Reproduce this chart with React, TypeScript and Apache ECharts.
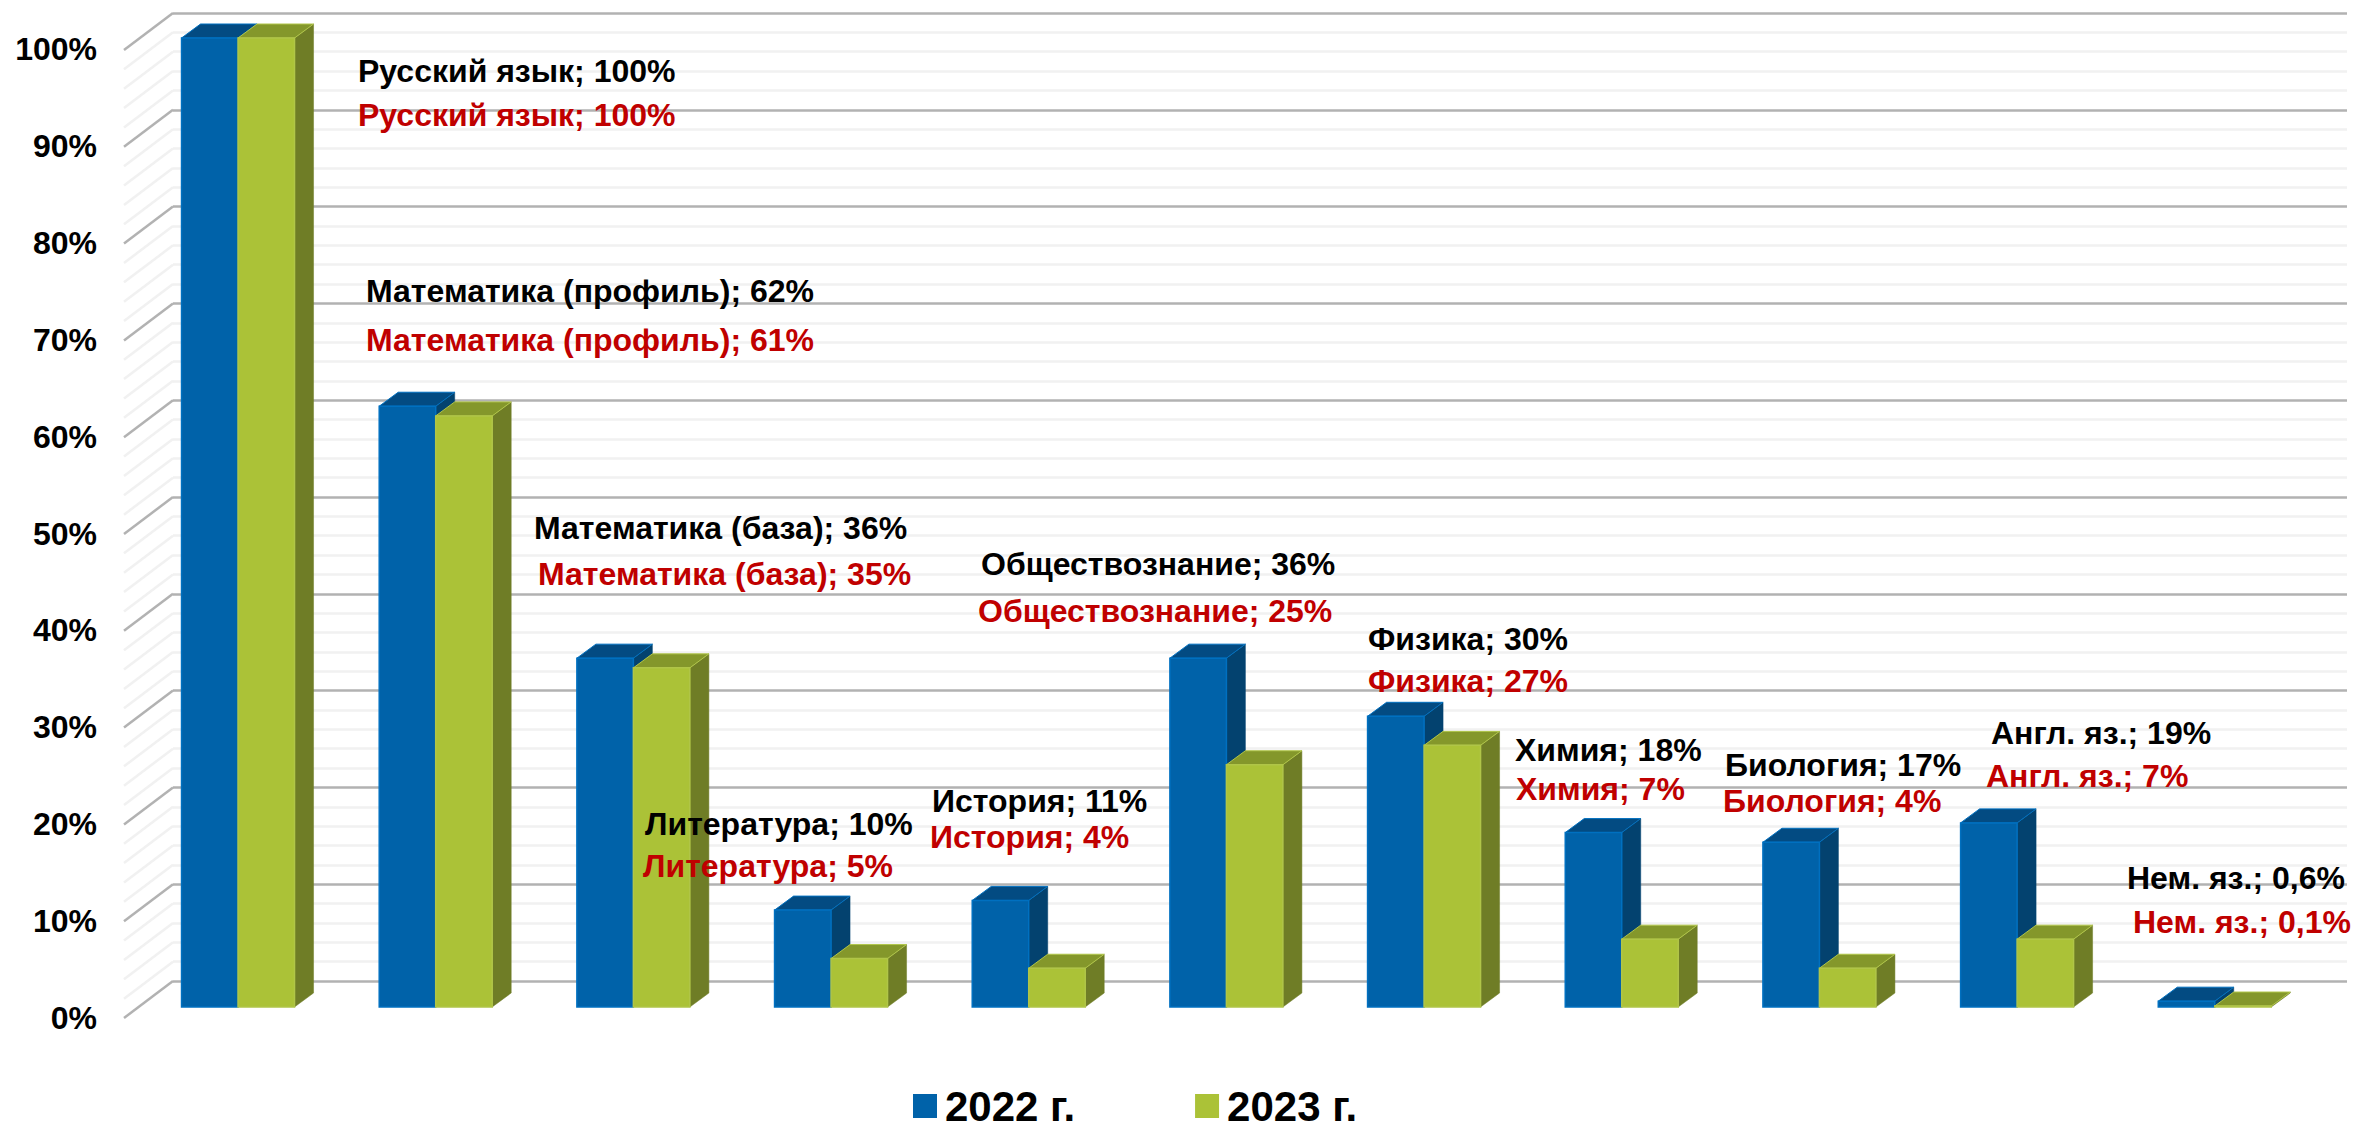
import React, { useEffect, useRef } from "react";
import * as echarts from "echarts";

const categories = ["Русский язык", "Математика (профиль)", "Математика (база)", "Литература", "История", "Обществознание", "Физика", "Химия", "Биология", "Англ. яз.", "Нем. яз."];
const values2022 = [100, 62, 36, 10, 11, 36, 30, 18, 17, 19, 0.6];
const values2023 = [100, 61, 35, 5, 4, 25, 27, 7, 4, 7, 0.1];
const wallTicks = [0, 2, 4, 6, 8, 10, 12, 14, 16, 18, 20, 22, 24, 26, 28, 30, 32, 34, 36, 38, 40, 42, 44, 46, 48, 50, 52, 54, 56, 58, 60, 62, 64, 66, 68, 70, 72, 74, 76, 78, 80, 82, 84, 86, 88, 90, 92, 94, 96, 98, 100];
const seriesNames = ["2022 г.", "2023 г."];

// Layout only: left edge and vertical centre of each data label, in pixels.
const labelAnchors2022 = [[358, 71], [366, 291], [534, 528], [645, 824], [932, 801], [981, 564], [1368, 639], [1515, 750], [1725, 765], [1991, 733], [2127, 878]];
const labelAnchors2023 = [[358, 115], [366, 340], [538, 574], [643, 866], [930, 837], [978, 611], [1368, 681], [1516, 789], [1723, 801], [1986, 776], [2133, 922]];

const FONT = '"Liberation Sans", Arial, sans-serif';
const BAR_W = 56.5;
const DEPTH_X = 19;
const DEPTH_Y = 14;
const SLANT_X = 49;
const SLANT_Y = 37;

const palette2022 = { front: "#0062A9", top: "#034B82", side: "#03426F", stroke: "#0070C0" };
const palette2023 = { front: "#ABC237", top: "#84972B", side: "#6F7D26", stroke: "#B0C548" };

document.documentElement.style.margin = "0";
document.body.style.margin = "0";

function barRenderer(side: number, colors: typeof palette2022, anchors: number[][], values: number[], textColor: string) {
  return (params: any, api: any) => {
    const i = params.dataIndex;
    const base = api.coord([api.value(0), 0]);
    const head = api.coord([api.value(0), api.value(1)]);
    const x0 = side < 0 ? base[0] - BAR_W : base[0];
    const x1 = x0 + BAR_W;
    const y0 = base[1];
    const y1 = head[1];
    const shape = { stroke: colors.stroke, lineWidth: 1.5 };
    const label = `${categories[i]}; ${String(values[i]).replace(".", ",")}%`;
    return {
      type: "group",
      children: [
        {
          type: "polygon",
          shape: { points: [[x1, y0], [x1 + DEPTH_X, y0 - DEPTH_Y], [x1 + DEPTH_X, y1 - DEPTH_Y], [x1, y1]] },
          style: { fill: colors.side, stroke: colors.side, lineWidth: 0.5 },
        },
        {
          type: "polygon",
          shape: { points: [[x0, y1], [x0 + DEPTH_X, y1 - DEPTH_Y], [x1 + DEPTH_X, y1 - DEPTH_Y], [x1, y1]] },
          style: { fill: colors.top, ...shape, lineWidth: 1 },
        },
        {
          type: "rect",
          shape: { x: x0, y: y1, width: BAR_W, height: y0 - y1 },
          style: { fill: colors.front, ...shape },
        },
        {
          type: "text",
          z2: 100,
          x: anchors[i][0],
          y: anchors[i][1],
          style: {
            text: label,
            fill: textColor,
            fontFamily: FONT,
            fontWeight: "bold",
            fontSize: 32,
            textAlign: "left",
            textVerticalAlign: "middle",
          },
        },
      ],
    };
  };
}

function slantRenderer(_params: any, api: any) {
  const v = api.value(1);
  const p = api.coord([0, v]);
  const major = v % 10 === 0;
  return {
    type: "line",
    shape: { x1: p[0], y1: p[1], x2: p[0] - SLANT_X, y2: p[1] + SLANT_Y },
    style: { stroke: major ? "#B2B2B2" : "#F1F1F1", lineWidth: 2.5, fill: "none" },
  };
}

export default function App() {
  const ref = useRef<HTMLDivElement>(null);
  useEffect(() => {
    const chart = echarts.init(ref.current!, null, { renderer: "svg" });
    chart.setOption({
      animation: false,
      backgroundColor: "#FFFFFF",
      grid: [
        { left: 139.2, top: 38, width: 2174.4, height: 969 },
        { left: 173, top: 13, width: 2174, height: 968 },
        { left: 124, top: 49, width: 2174, height: 969 },
      ],
      xAxis: [
        { type: "category", gridIndex: 0, data: categories, show: false },
        { type: "value", gridIndex: 1, min: 0, max: 1, show: false },
        { type: "value", gridIndex: 2, min: 0, max: 1, show: false },
      ],
      yAxis: [
        { type: "value", gridIndex: 0, min: 0, max: 100, show: false },
        {
          type: "value",
          gridIndex: 1,
          min: 0,
          max: 100,
          interval: 10,
          axisLine: { show: false },
          axisTick: { show: false },
          axisLabel: { show: false },
          splitLine: { show: true, lineStyle: { color: "#B2B2B2", width: 2.5 } },
          minorTick: { show: false, splitNumber: 5 },
          minorSplitLine: { show: true, lineStyle: { color: "#F1F1F1", width: 2.5 } },
        },
        {
          type: "value",
          gridIndex: 2,
          min: 0,
          max: 100,
          interval: 10,
          axisLine: { show: false },
          axisTick: { show: false },
          splitLine: { show: false },
          axisLabel: {
            margin: 27,
            formatter: "{value}%",
            color: "#000000",
            fontFamily: FONT,
            fontWeight: "bold",
            fontSize: 32,
          },
        },
      ],
      legend: {
        show: true,
        data: seriesNames,
        left: 913,
        top: 1085,
        icon: "rect",
        itemWidth: 24,
        itemHeight: 24,
        itemGap: 120,
        padding: 0,
        selectedMode: false,
        textStyle: { color: "#000000", fontFamily: FONT, fontWeight: "bold", fontSize: 42, lineHeight: 36, padding: [0, 0, 0, 3] },
      },
      tooltip: { show: false },
      series: [
        {
          name: "wall",
          type: "custom",
          xAxisIndex: 1,
          yAxisIndex: 1,
          z: 1,
          silent: true,
          clip: false,
          data: wallTicks.map((t) => [0, t]),
          renderItem: slantRenderer,
        },
        {
          name: seriesNames[0],
          type: "custom",
          xAxisIndex: 0,
          yAxisIndex: 0,
          z: 3,
          clip: false,
          itemStyle: { color: palette2022.front },
          data: values2022.map((v, i) => [i, v]),
          encode: { x: 0, y: 1 },
          renderItem: barRenderer(-1, palette2022, labelAnchors2022, values2022, "#000000"),
        },
        {
          name: seriesNames[1],
          type: "custom",
          xAxisIndex: 0,
          yAxisIndex: 0,
          z: 3,
          clip: false,
          itemStyle: { color: palette2023.front },
          data: values2023.map((v, i) => [i, v]),
          encode: { x: 0, y: 1 },
          renderItem: barRenderer(1, palette2023, labelAnchors2023, values2023, "#C00000"),
        },
      ],
    });
    return () => chart.dispose();
  }, []);
  return <div ref={ref} style={{ position: "absolute", left: 0, top: 0, width: 2353, height: 1122 }} />;
}
